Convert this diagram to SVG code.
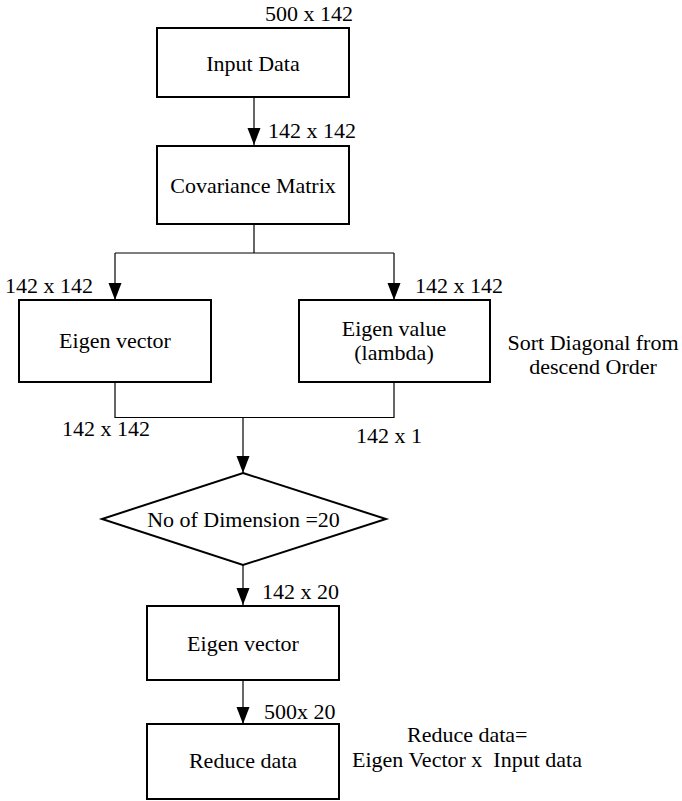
<svg xmlns="http://www.w3.org/2000/svg" width="682" height="801" viewBox="0 0 682 801" font-family="'Liberation Serif', 'Times New Roman', 'DejaVu Serif', serif">
  <style>
    text { font-family: "Liberation Serif", "Times New Roman", "DejaVu Serif", serif; font-size: 22px; fill: #000; }
    .c { text-anchor: middle; }
    .box { fill: #fff; stroke: #000; stroke-width: 2; }
    .wire { fill: none; stroke: #000; stroke-width: 1.2; }
    .head { fill: #000; stroke: none; }
  </style>
  <rect width="682" height="801" fill="#fff"/>

  <!-- connectors -->
  <g id="connectors">
    <path class="wire" d="M254,97 V145"/>
    <path class="wire" d="M254,224 V253 M115,253 H394"/>
    <path class="wire" d="M115,253 V300"/>
    <path class="wire" d="M394,253 V300"/>
    <path class="wire" d="M115,382 V417.5 H394 V382"/>
    <path class="wire" d="M243,417.5 V473"/>
    <path class="wire" d="M243,565 V605"/>
    <path class="wire" d="M243,680 V724"/>
    <path class="head" d="M247.5,128 L260.5,128 L254,145 z"/>
    <path class="head" d="M108.5,283 L121.5,283 L115,300 z"/>
    <path class="head" d="M387.5,283 L400.5,283 L394,300 z"/>
    <path class="head" d="M236.5,456 L249.5,456 L243,473 z"/>
    <path class="head" d="M236.5,588 L249.5,588 L243,605 z"/>
    <path class="head" d="M236.5,707 L249.5,707 L243,724 z"/>
  </g>

  <g id="input-data">
    <rect class="box" x="157" y="28" width="192" height="69"/>
    <text class="c" x="253" y="71">Input Data</text>
    <text x="353" y="21" text-anchor="end">500 x 142</text>
  </g>

  <g id="covariance-matrix">
    <rect class="box" x="157" y="146" width="192" height="78"/>
    <text class="c" x="253" y="193">Covariance Matrix</text>
    <text x="268" y="138">142 x 142</text>
  </g>

  <g id="eigen-vector-full">
    <rect class="box" x="19" y="300" width="192" height="82"/>
    <text class="c" x="115" y="348">Eigen vector</text>
    <text x="5" y="293">142 x 142</text>
    <text x="62" y="436">142 x 142</text>
  </g>

  <g id="eigen-value">
    <rect class="box" x="299" y="300" width="191" height="82"/>
    <text class="c" x="394" y="336">Eigen value</text>
    <text class="c" x="394" y="360">(lambda)</text>
    <text x="415" y="293">142 x 142</text>
    <text x="356" y="443">142 x 1</text>
    <text class="c" x="593" y="350">Sort Diagonal from</text>
    <text class="c" x="593" y="374">descend Order</text>
  </g>

  <g id="dimension-check">
    <polygon class="box" points="243,473 386,519 243,565 102,519"/>
    <text class="c" x="243.5" y="527">No of Dimension =20</text>
  </g>

  <g id="eigen-vector-reduced">
    <rect class="box" x="147" y="606" width="192" height="74"/>
    <text class="c" x="243" y="651">Eigen vector</text>
    <text x="262" y="599">142 x 20</text>
  </g>

  <g id="reduce-data">
    <rect class="box" x="147" y="724" width="192" height="75"/>
    <text class="c" x="243" y="768">Reduce data</text>
    <text x="264" y="719">500x 20</text>
    <text x="407" y="742">Reduce data=</text>
    <text x="352" y="767" xml:space="preserve">Eigen Vector x  Input data</text>
  </g>
</svg>
